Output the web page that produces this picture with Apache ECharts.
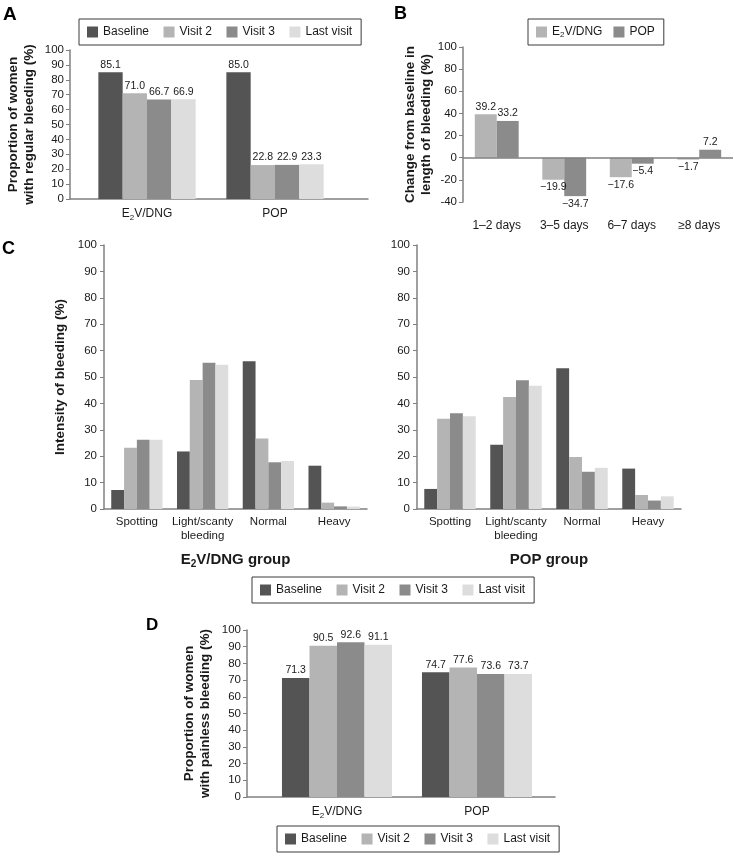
<!DOCTYPE html>
<html><head><meta charset="utf-8">
<script src="https://cdn.jsdelivr.net/npm/echarts@6/dist/echarts.min.js"></script>
<style>html,body{margin:0;padding:0;background:#fff}#c{width:734px;height:857px}</style>
</head><body><div id="c"></div>
<script>
// ---------- DATA ----------
const visitNames = ['Baseline', 'Visit 2', 'Visit 3', 'Last visit'];

// Panel A: regular bleeding
const aCategories = ['E2V/DNG', 'POP'];
const aBaseline = [85.1, 85.0];
const aVisit2 = [71.0, 22.8];
const aVisit3 = [66.7, 22.9];
const aLastVisit = [66.9, 23.3];

// Panel B: change in length of bleeding
const bCategories = ['1–2 days', '3–5 days', '6–7 days', '≥8 days'];
const bSeriesNames = ['E2V/DNG', 'POP'];
const bE2vDng = [39.2, -19.9, -17.6, -1.7];
const bPop = [33.2, -34.7, -5.4, 7.2];

// Panel C: intensity of bleeding
const cCategories = ['Spotting', 'Light/scanty\nbleeding', 'Normal', 'Heavy'];
const cE2vBaseline = [7.2, 21.8, 56.0, 16.4];
const cE2vVisit2 = [23.2, 48.9, 26.7, 2.4];
const cE2vVisit3 = [26.2, 55.4, 17.7, 1.0];
const cE2vLastVisit = [26.2, 54.6, 18.2, 0.9];
const cPopBaseline = [7.6, 24.3, 53.3, 15.3];
const cPopVisit2 = [34.2, 42.4, 19.7, 5.3];
const cPopVisit3 = [36.3, 48.8, 14.1, 3.2];
const cPopLastVisit = [35.1, 46.7, 15.6, 4.8];

// Panel D: painless bleeding
const dCategories = ['E2V/DNG', 'POP'];
const dBaseline = [71.3, 74.7];
const dVisit2 = [90.5, 77.6];
const dVisit3 = [92.6, 73.6];
const dLastVisit = [91.1, 73.7];

// ---------- STYLE ----------
const FONT = "'Liberation Sans', Arial, Helvetica, sans-serif";
const TXT = '#1a1a1a';
const AX = '#808080';
const visitColors = ['#545454', '#b4b4b4', '#8b8b8b', '#dddddd'];
const bColors = ['#b4b4b4', '#8b8b8b'];

const sub = s => s.replace('E2V', 'E{sub|2}V');
const fmt = v => (v < 0 ? '\u2212' : '') + Math.abs(v).toFixed(1);

const subRich = (size, bold) => ({
  sub: { fontSize: size, fontFamily: FONT, color: TXT, fontWeight: bold ? 'bold' : 'normal', verticalAlign: 'bottom', lineHeight: 4 }
});

const chart = echarts.init(document.getElementById('c'), null, { renderer: 'canvas' });

function legendOpt(data, left, top, gap) {
  return {
    data: data, left: left, top: top, orient: 'horizontal',
    itemWidth: 11, itemHeight: 11, itemGap: gap, icon: 'rect',
    borderColor: '#3a3a3a', borderWidth: 1, padding: [6, 9, 6, 8],
    formatter: n => sub(n),
    textStyle: { fontFamily: FONT, fontSize: 12, color: TXT, lineHeight: 14, rich: subRich(8, false) },
    selectedMode: false
  };
}

function frameX(grid) {
  return { type: 'value', gridIndex: grid, min: 0, max: 1, axisLine: { show: true, lineStyle: { color: AX, width: 1.5 } },
    axisTick: { show: false }, axisLabel: { show: false }, splitLine: { show: false } };
}
function catX(grid, data, extra) {
  return Object.assign({
    type: 'category', gridIndex: grid, data: data,
    axisLine: { show: true, lineStyle: { color: AX, width: 1.5 } },
    axisTick: { show: false },
    axisLabel: { interval: 0, fontFamily: FONT, fontSize: 12, color: TXT, margin: 7, lineHeight: 16, formatter: v => sub(v), rich: subRich(8, false) },
    splitLine: { show: false }
  }, extra || {});
}
function valY(grid, min, max, step, name, nameGap, extra) {
  return Object.assign({
    type: 'value', gridIndex: grid, min: min, max: max, interval: step,
    axisLine: { show: true, lineStyle: { color: AX, width: 1.5 } },
    axisTick: { show: true, inside: false, length: 4, lineStyle: { color: AX, width: 1 } },
    axisLabel: { fontFamily: FONT, fontSize: 11.5, color: TXT, margin: 6 },
    splitLine: { show: false },
    name: name, nameLocation: 'middle', nameGap: nameGap,
    nameTextStyle: { fontFamily: FONT, fontSize: 13.5, fontWeight: 'bold', color: TXT, lineHeight: 16, align: 'center' }
  }, extra || {});
}
function hiddenY(grid, min, max) {
  return { type: 'value', gridIndex: grid, min: min, max: max, show: false, splitLine: { show: false } };
}

function bar(name, data, xi, yi, color, labels, gapPct) {
  return {
    type: 'bar', name: name, xAxisIndex: xi, yAxisIndex: yi,
    data: data.map(v => ({ value: v, label: { position: v < 0 ? 'bottom' : 'top' } })),
    barGap: '0%', barCategoryGap: gapPct,
    itemStyle: { color: color },
    label: { show: labels, distance: 2, fontFamily: FONT, fontSize: 10.5, color: TXT, formatter: p => fmt(p.value) },
    emphasis: { disabled: true }, animation: false
  };
}

const aSets = [aBaseline, aVisit2, aVisit3, aLastVisit];
const cLeftSets = [cE2vBaseline, cE2vVisit2, cE2vVisit3, cE2vLastVisit];
const cRightSets = [cPopBaseline, cPopVisit2, cPopVisit3, cPopLastVisit];
const dSets = [dBaseline, dVisit2, dVisit3, dLastVisit];

const series = [];
aSets.forEach((d, i) => series.push(bar(visitNames[i], d, 1, 1, visitColors[i], true, '24%')));
const bS = [bE2vDng, bPop];
bS.forEach((d, i) => {
  const s = bar(bSeriesNames[i], d, 2, 2, bColors[i], true, '35%');
  if (i === 0) {
    s.markLine = { silent: true, symbol: 'none', label: { show: false }, data: [{ yAxis: 0 }],
      lineStyle: { color: AX, width: 1.5, type: 'solid' }, animation: false };
  }
  series.push(s);
});
cLeftSets.forEach((d, i) => series.push(bar(visitNames[i], d, 3, 3, visitColors[i], false, '22%')));
cRightSets.forEach((d, i) => series.push(bar(visitNames[i], d, 4, 4, visitColors[i], false, '22%')));
dSets.forEach((d, i) => series.push(bar(visitNames[i], d, 6, 6, visitColors[i], true, '21.4%')));

const letter = (t, l, tp, size) => ({ text: t, left: l, top: tp, padding: 0,
  textStyle: { fontFamily: FONT, fontSize: size, fontWeight: 'bold', color: '#000' } });

const cLabel = { interval: 0, fontFamily: FONT, fontSize: 11.5, color: TXT, margin: 6, lineHeight: 14 };

const option = {
  backgroundColor: '#ffffff',
  animation: false,
  title: [letter('A', 3, 5, 19), letter('B', 394, 5, 18), letter('C', 2, 240, 18), letter('D', 146, 617, 17)],
  legend: [
    legendOpt(visitNames, 79, 19, 14.5),
    legendOpt(bSeriesNames, 528, 19, 11),
    legendOpt(visitNames, 252, 577, 14.5),
    legendOpt(visitNames, 277, 826, 14.5)
  ],
  grid: [
    { left: 70, top: 50, width: 298, height: 149 },   // A frame
    { left: 83, top: 50, width: 256, height: 149 },   // A bars
    { left: 463, top: 47, width: 270, height: 155 },  // B
    { left: 104, top: 245, width: 263, height: 264 }, // C left
    { left: 417, top: 245, width: 264, height: 264 }, // C right
    { left: 247, top: 630, width: 308, height: 167 }, // D frame
    { left: 267, top: 630, width: 280, height: 167 }  // D bars
  ],
  xAxis: [
    frameX(0),
    catX(1, aCategories, { axisLine: { show: false } }),
    catX(2, bCategories, { axisLine: { show: false, onZero: false },
      axisLabel: { interval: 0, fontFamily: FONT, fontSize: 12, color: TXT, margin: 18 } }),
    catX(3, cCategories, { axisLabel: cLabel,
      name: 'E{sub|2}V/DNG group', nameLocation: 'middle', nameGap: 42,
      nameTextStyle: { fontFamily: FONT, fontSize: 15, fontWeight: 'bold', color: TXT, lineHeight: 18, rich: subRich(10, true) } }),
    catX(4, cCategories, { axisLabel: cLabel,
      name: 'POP group', nameLocation: 'middle', nameGap: 42,
      nameTextStyle: { fontFamily: FONT, fontSize: 15, fontWeight: 'bold', color: TXT, lineHeight: 18 } }),
    frameX(5),
    catX(6, dCategories, { axisLine: { show: false } })
  ],
  yAxis: [
    valY(0, 0, 100, 10, 'Proportion of women\nwith regular bleeding (%)', 33),
    hiddenY(1, 0, 100),
    valY(2, -40, 100, 20, 'Change from baseline in\nlength of bleeding (%)', 27),
    valY(3, 0, 100, 10, 'Intensity of bleeding (%)', 36, { axisLabel: { fontFamily: FONT, fontSize: 11.5, color: TXT, margin: 7 } }),
    valY(4, 0, 100, 10, '', 30, { axisLabel: { fontFamily: FONT, fontSize: 11.5, color: TXT, margin: 7 } }),
    valY(5, 0, 100, 10, 'Proportion of women\nwith painless bleeding (%)', 34),
    hiddenY(6, 0, 100)
  ],
  series: series
};
chart.setOption(option);
</script>
</body></html>
